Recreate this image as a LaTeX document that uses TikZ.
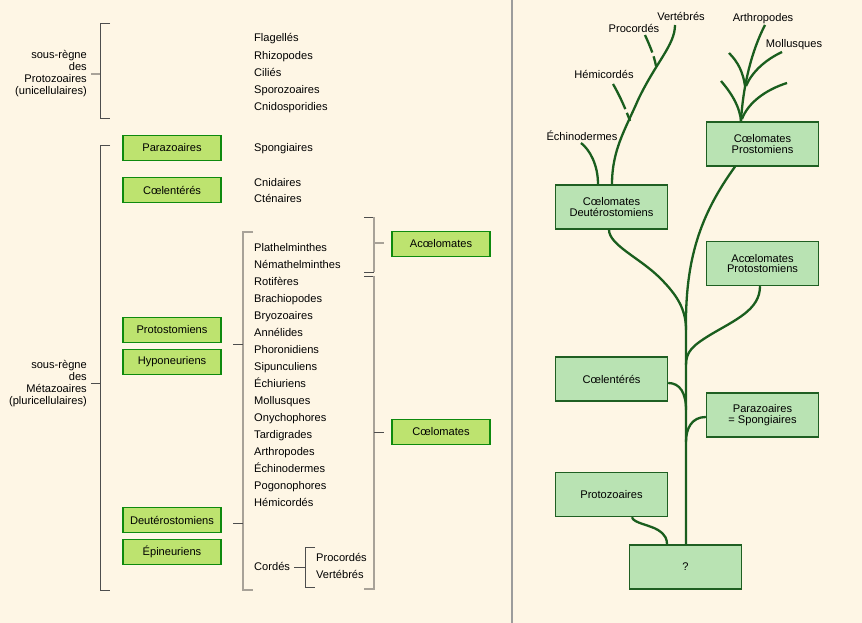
\documentclass[tikz,border=0pt]{standalone}
\usepackage{fontspec}
\setmainfont{Liberation Sans}
\usetikzlibrary{calc}
\definecolor{cream}{HTML}{FEF6E5}
\definecolor{limefill}{HTML}{BDE36F}
\definecolor{limeedge}{HTML}{0E8A0E}
\definecolor{palefill}{HTML}{B9E3B3}
\definecolor{darkedge}{HTML}{1F5F22}
\definecolor{treegreen}{HTML}{1A5E1E}
\definecolor{brkgray}{HTML}{4D4D4D}
\definecolor{lightgray}{HTML}{A8A298}
\definecolor{divgray}{HTML}{9C9C9C}
\begin{document}
\begin{tikzpicture}[x=1pt,y=-1pt,
  txt/.style={font=\fontsize{11.1}{12}\selectfont, inner sep=0pt},
  item/.style={txt, anchor=base west},
  lab/.style={txt, anchor=base},
  lbox/.style={txt, draw=limeedge, fill=limefill, line width=1.8pt, minimum width=98pt, minimum height=25pt},
  rbox/.style={font=\fontsize{11.1}{10.5}\selectfont, inner sep=0pt, align=center, draw=darkedge, fill=palefill, line width=1.4pt, minimum width=112pt, minimum height=44pt},
  brk/.style={draw=brkgray, line width=0.9pt},
  lbrk/.style={draw=lightgray, line width=1.4pt},
  branch/.style={draw=treegreen, line width=2.3pt}]
\useasboundingbox (0,0) rectangle (862,623);
\fill[cream] (0,0) rectangle (862,623);
\draw[divgray, line width=1.5pt] (512,0) -- (512,623);

% ---------- left: kingdom labels ----------
\node[txt, anchor=east, align=right] (protolab) at (87,74) {sous-règne\\des\\Protozoaires\\(unicellulaires)};
\node[txt, anchor=east, align=right] (metalab) at (87,384) {sous-règne\\des\\Métazoaires\\(pluricellulaires)};

% brackets
\draw[brk] (110,23) -- (100,23) -- (100,118) -- (110,118);
\draw[lbrk] (91,74) -- (100,74);
\draw[brk] (110,145) -- (100,145) -- (100,590) -- (110,590);
\draw[brk] (91,383) -- (100,383);
\draw[lbrk, line width=1.1pt] (253,232) -- (243,232) -- (243,590) -- (253,590);
\draw[brk] (233,344) -- (243,344);
\draw[brk] (233,523) -- (243,523);
\draw[brk] (364,217) -- (374,217);
\draw[lbrk, line width=1.1pt] (374,217) -- (374,272);
\draw[brk] (374,272) -- (364,272);
\draw[lbrk] (374,243) -- (384,243);
\draw[brk] (364,276) -- (374,276);
\draw[lbrk, line width=1.1pt] (374,276) -- (374,589) -- (364,589);
\draw[brk] (374,432) -- (384,432);

% green boxes (left)
\node[lbox] (para) at (172,148) {Parazoaires};
\node[lbox] (coelL) at (172,190) {Cœlentérés};
\node[lbox] (protos) at (172,330) {Protostomiens};
\node[lbox] (hypo) at (172,362) {Hyponeuriens};
\node[lbox] (deutL) at (172,520) {Deutérostomiens};
\node[lbox] (epi) at (172,552) {Épineuriens};
\node[lbox] (acoelL) at (441,244) {Acœlomates};
\node[lbox] (coelomL) at (441,432) {Cœlomates};

% lists
\foreach \t [count=\i] in {Flagellés,Rhizopodes,Ciliés,Sporozoaires,Cnidosporidies}
  \node[item] (p\i) at (254,{38+17.1*(\i-1)+4}) {\t};
\node[item] (spong) at (254,152) {Spongiaires};
\node[item] (cnid) at (254,186) {Cnidaires};
\node[item] (cten) at (254,202) {Cténaires};
\foreach \t [count=\i] in {Plathelminthes,Némathelminthes,Rotifères,Brachiopodes,Bryozoaires,Annélides,Phoronidiens,Sipunculiens,Échiuriens,Mollusques,Onychophores,Tardigrades,Arthropodes,Échinodermes,Pogonophores,Hémicordés}
  \node[item] (m\i) at (254,{247+17.05*(\i-1)+4}) {\t};
\node[item] (cordes) at (254,570) {Cordés};
\node[item] (procL) at (316,561) {Procordés};
\node[item] (vertL) at (316,578) {Vertébrés};
\draw[brk] (cordes.east |- 0,567) ++(4,0) -- (305,567);
\draw[brk] (315,547) -- (305,547) -- (305,587) -- (315,587);

% ---------- right: tree ----------
\node[rbox] (deut) at (611.5,207) {Cœlomates\\Deutérostomiens};
\node[rbox] (prost) at (762.5,144) {Cœlomates\\Prostomiens};
\node[rbox] (acoel) at (762.5,263.5) {Acœlomates\\Protostomiens};
\node[rbox] (coel) at (611.5,379) {Cœlentérés};
\node[rbox] (spg) at (762.5,415) {Parazoaires\\= Spongiaires};
\node[rbox] (proto) at (611.5,494.5) {Protozoaires};
\node[rbox] (q) at (685.5,567) {?};

% trunk
\draw[branch] ($(q.north)+(0.5,0)$) -- (686,330) .. controls (685,260) and (700,215) .. ($(prost.south)+(-27.5,0)$);
% side branches
\draw[branch] ($(deut.south)+(-2.5,0)$) .. controls (609,245) and (640,258) .. (660,278) .. controls (678,296) and (686,310) .. (686,330);
\draw[branch] ($(acoel.south)+(-2.5,0)$) .. controls (760,310) and (735,320) .. (710,335) .. controls (692,346) and (686,352) .. (686,365);
\draw[branch] ($(coel.east)+(0,4)$) .. controls (680,383) and (686,393) .. (686,410);
\draw[branch] ($(spg.west)+(0,2)$) .. controls (692,417) and (686,428) .. (686,442);
\draw[branch] ($(proto.south)+(20.5,0)$) .. controls (633,523) and (650,525) .. (658,530) .. controls (666,535) and (667,540) .. ($(q.north)+(-18.5,0)$);

% Deuterostomian crown
\node[lab] (vert) at (681,21) {Vertébrés};
\node[lab] (proc) at (634,33) {Procordés};
\node[lab] (hemi) at (604,79) {Hémicordés};
\node[lab] (echi) at (582,141) {Échinodermes};
\coordinate (vtip) at (675,25);
\draw[branch] ($(deut.north)+(0.5,0)$) .. controls (612,150) and (625,130) .. (638,100) .. controls (656,62) and (675,45) .. (vtip);
\draw[branch] (581,143) .. controls (590,150) and (598,165) .. ($(deut.north)+(-13.5,0)$);
\draw[branch, dash pattern=on 28pt off 4pt on 30pt] (613,84) .. controls (620,96) and (626,110) .. (630,121);
\draw[branch, dash pattern=on 19pt off 4pt on 30pt] (645,35) .. controls (649,44) and (654,55) .. (656,66);

% Prostomian crown
\node[lab] (arth) at (763,22) {Arthropodes};
\node[lab] (moll) at (794,48) {Mollusques};
\coordinate (base) at ($(prost.north)+(-21.5,0)$);
\draw[branch] (base) .. controls (743,85) and (752,50) .. (765,25);
\draw[branch] (721,81) .. controls (733,95) and (740,108) .. (base);
\draw[branch] (742,119) .. controls (748,103) and (765,90) .. (787,83);
\draw[branch] (729,53) .. controls (738,62) and (743,72) .. (745,86);
\draw[branch] (746,86) .. controls (752,72) and (765,60) .. (782,52);
\end{tikzpicture}
\end{document}
